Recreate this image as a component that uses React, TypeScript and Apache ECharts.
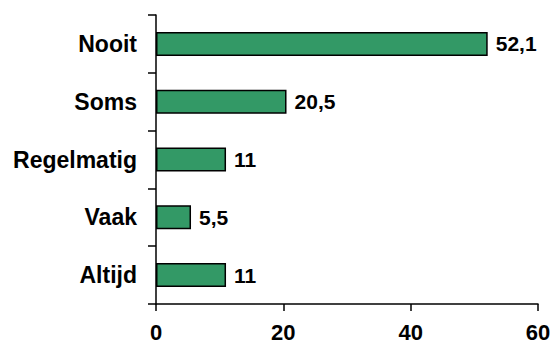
import React, { useEffect, useRef } from "react";
import * as echarts from "echarts";

// Antwoordcategorieën, van boven naar beneden
const categories = ["Nooit", "Soms", "Regelmatig", "Vaak", "Altijd"];
// Percentages per categorie
const values = [52.1, 20.5, 11, 5.5, 11];
// As-bereik
const axisMin = 0;
const axisMax = 60;
const axisStep = 20;

const FONT = "'Liberation Sans', Arial, sans-serif";

const fmt = (v: number) => String(v).replace(".", ",");

export default function App() {
  const ref = useRef<HTMLDivElement>(null);

  useEffect(() => {
    if (!ref.current) return;
    const chart = echarts.init(ref.current, null, { renderer: "svg" });
    chart.setOption({
      animation: false,
      backgroundColor: "#ffffff",
      grid: {
        left: 156,
        right: 12,
        top: 15,
        bottom: 41,
        containLabel: false,
        outerBoundsMode: "none",
      },
      xAxis: {
        type: "value",
        min: axisMin,
        max: axisMax,
        interval: axisStep,
        splitLine: { show: false },
        axisLine: { show: true, lineStyle: { color: "#000", width: 1.5 } },
        axisTick: { show: true, length: 7, lineStyle: { color: "#000", width: 1.5 } },
        axisLabel: {
          color: "#000",
          fontFamily: FONT,
          fontWeight: "bold",
          fontSize: 22,
          lineHeight: 22,
          margin: 17,
          showMaxLabel: true,
          hideOverlap: false,
        },
      },
      yAxis: {
        type: "category",
        data: categories,
        inverse: true,
        axisLine: { show: true, lineStyle: { color: "#000", width: 1.5 } },
        axisTick: { show: true, length: 8, lineStyle: { color: "#000", width: 1.5 } },
        axisLabel: {
          color: "#000",
          fontFamily: FONT,
          fontWeight: "bold",
          fontSize: 23,
          margin: 19,
        },
      },
      series: [
        {
          type: "bar",
          data: values,
          barWidth: 24,
          itemStyle: { color: "#339966", borderColor: "#000", borderWidth: 1.5 },
          label: {
            show: true,
            position: "right",
            distance: 8,
            color: "#000",
            fontFamily: FONT,
            fontWeight: "bold",
            fontSize: 21,
            formatter: (p: any) => fmt(p.value),
          },
        },
      ],
    });
    return () => chart.dispose();
  }, []);

  return (
    <div
      ref={ref}
      style={{ position: "fixed", left: 0, top: 0, width: 550, height: 345 }}
    />
  );
}
